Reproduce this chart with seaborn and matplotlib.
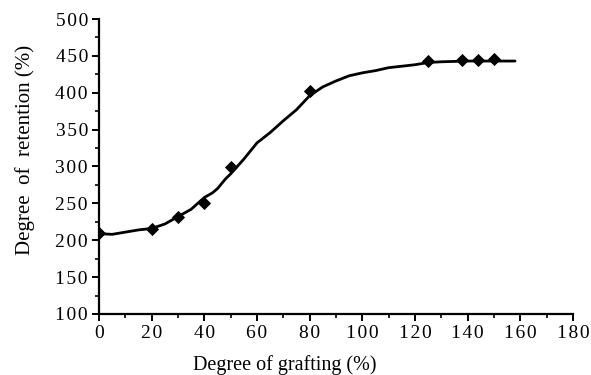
import matplotlib
matplotlib.use("Agg")
import matplotlib.pyplot as plt
import seaborn as sns
import numpy as np
import pandas as pd
from matplotlib.ticker import MultipleLocator, FuncFormatter

# Measured data points
grafting = [0, 20, 30, 40, 50, 80, 125, 138, 144, 150]
retention = [210, 215, 231, 250, 299, 402, 443, 445, 445, 446]

# Fitted curve
curve_x = [0, 5, 10, 15, 20, 25, 30, 35, 40, 43, 45, 48, 50, 55, 60, 65, 70, 75, 80, 85, 90, 95, 100, 105, 110, 115, 120, 125, 130, 140, 150, 158]
curve_y = [209, 208, 211, 214, 216, 222, 232, 242, 258, 264, 270, 283, 290, 310, 332, 346, 362, 377, 396, 408, 416, 423, 427, 430, 434, 436, 438, 441, 442, 443, 443, 443]

sns.set_theme(style="ticks")
plt.rcParams['font.family'] = ['Liberation Serif', 'DejaVu Serif']

fig = plt.figure(figsize=(5.91, 3.75), dpi=100)
ax = fig.add_axes([0.1675, 0.1627, 0.802, 0.7866])

sns.lineplot(x=curve_x, y=curve_y, ax=ax, color="black", linewidth=2.0, sort=True)
sns.scatterplot(x=grafting, y=retention, ax=ax, color="black", marker="D", s=45, edgecolor="black", linewidth=0, zorder=3)

ax.set_xlim(0, 180)
ax.set_ylim(100, 500)
ax.xaxis.set_major_locator(MultipleLocator(20))
ax.xaxis.set_minor_locator(MultipleLocator(10))
ax.yaxis.set_major_locator(MultipleLocator(50))
ax.yaxis.set_minor_locator(MultipleLocator(25))

spaced = FuncFormatter(lambda v, p: "\u200a".join(str(int(round(v)))))
ax.xaxis.set_major_formatter(spaced)
ax.yaxis.set_major_formatter(spaced)

for s in ["top", "right"]:
    ax.spines[s].set_visible(False)
for s in ["left", "bottom"]:
    ax.spines[s].set_linewidth(1.6)
    ax.spines[s].set_color("black")

ax.tick_params(which="major", direction="out", length=5, width=1.4, colors="black", labelsize=14, pad=3)
ax.tick_params(which="minor", direction="out", length=3, width=1.2, colors="black")

ax.set_xlabel("Degree of grafting (%)", fontsize=14.5)
ax.set_ylabel("Degree  of  retention (%)", fontsize=15)
ax.xaxis.set_label_coords(0.392, -0.14)
ax.yaxis.set_label_coords(-0.135, 0.556)
ax.xaxis.label.set_color("black")
ax.yaxis.label.set_color("black")

fig.savefig("out.png", dpi=100)
